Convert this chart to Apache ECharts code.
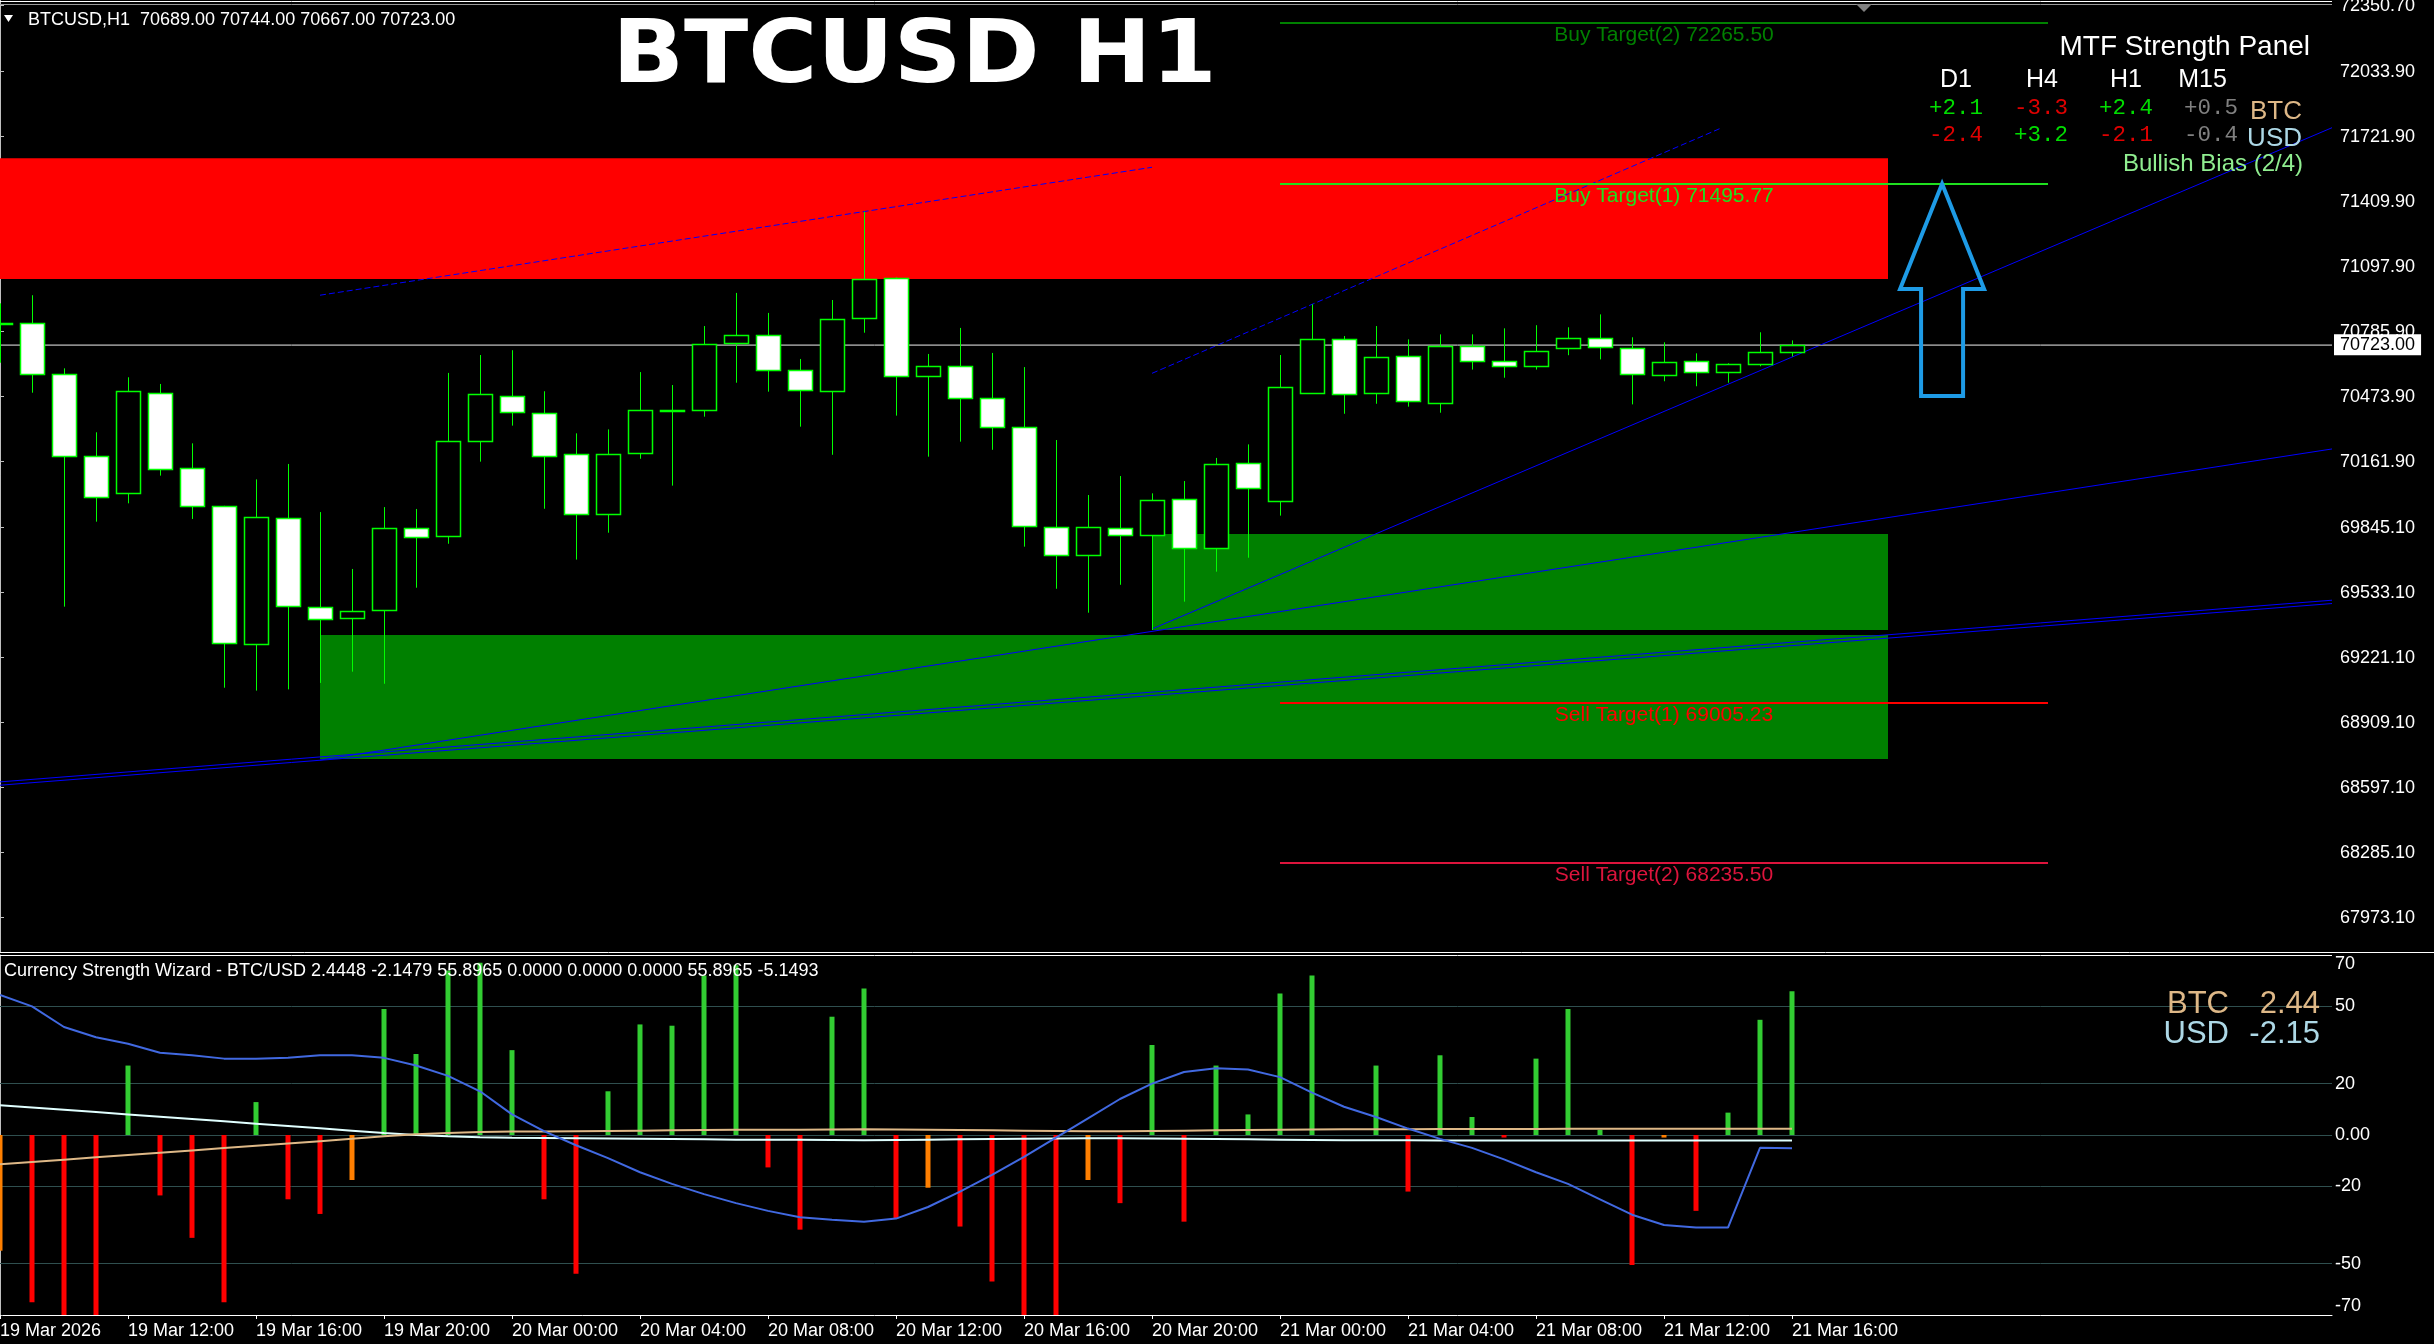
<!DOCTYPE html>
<html><head><meta charset="utf-8">
<script src="https://cdn.jsdelivr.net/npm/echarts@6/dist/echarts.min.js"></script>
<style>html,body{margin:0;padding:0;background:#000;overflow:hidden}#c{width:2434px;height:1344px}</style>
</head><body><div id="c"></div>
<script>
// ---------------- DATA ----------------
const symbolName = 'BTCUSD';
const timeframe = 'H1';
const timeLabels = ['19 Mar 2026','19 Mar 12:00','19 Mar 16:00','19 Mar 20:00','20 Mar 00:00','20 Mar 04:00','20 Mar 08:00','20 Mar 12:00','20 Mar 16:00','20 Mar 20:00','21 Mar 00:00','21 Mar 04:00','21 Mar 08:00','21 Mar 12:00','21 Mar 16:00'];
const timeTickBars = [0,4,8,12,16,20,24,28,32,36,40,44,48,52,56];
const priceTicks = [72350.70,72033.90,71721.90,71409.90,71097.90,70785.90,70473.90,70161.90,69845.10,69533.10,69221.10,68909.10,68597.10,68285.10,67973.10];
const strengthTicks = [-70,-50,-20,0,20,50,70];
const strengthLevels = [50,20,0,-20,-50];

const opens  = [70822,70826,70581,70188,70010,70490,70130,69948,69285,69890,69463,69410,69449,69842,69804,70260,70476,70394,70197,69910,70202,70409,70409,70730,70769,70601,70500,70850,71042,70572,70620,70466,70327,69847,69713,69842,69809,69981,69746,70154,69972,70490,70749,70490,70668,70442,70716,70644,70620,70706,70754,70706,70577,70644,70591,70629,70689];
const highs  = [70922,70961,70610,70303,70567,70535,70250,69950,70077,70151,69920,69647,69944,69935,70588,70674,70697,70500,70298,70317,70592,70530,70813,70972,70876,70655,70938,71362,71047,70679,70804,70684,70616,70266,70002,70093,70010,70069,70180,70245,70674,70917,70765,70813,70749,70773,70773,70802,70817,70807,70869,70759,70735,70682,70634,70783,70744];
const lows   = [70637,70493,69466,69874,69962,70095,69887,69077,69063,69069,69100,69154,69096,69557,69768,70162,70335,69936,69692,69821,70176,70047,70378,70541,70498,70330,70195,70781,70383,70186,70258,70219,69754,69552,69437,69571,69354,69490,69634,69701,69903,70488,70392,70440,70426,70397,70604,70565,70604,70673,70653,70437,70548,70524,70541,70620,70667];
const closes = [70826,70581,70188,69991,70500,70125,69948,69290,69895,69468,69405,69444,69842,69799,70260,70485,70399,70188,69910,70197,70409,70411,70725,70769,70601,70505,70845,71037,70572,70620,70466,70327,69852,69713,69847,69809,69976,69746,70150,70034,70519,70749,70485,70663,70452,70716,70644,70620,70692,70754,70711,70581,70639,70591,70629,70687,70723];

// zones: [fromBar, toBar, lowPrice, highPrice]
const supplyZones = [[-1, 59, 71039, 71618]];
const demandZones = [[10, 59, 68735, 69330],[36, 59, 69354, 69815]];

// trend lines: [[bar, price],[bar, price]]
const channelUpperLines = [
  [[10, 70961],[36, 71575]],
  [[36, 70586],[53.75, 71761]]
];
const supportLines = [
  [[36, 69359],[72.875, 71765]],
  [[10, 68730],[72.875, 70223]],
  [[0, 68625],[72.875, 69497]],
  [[0, 68609],[72.875, 69481]]
];

const targetNames  = ['Buy Target(2)','Buy Target(1)','Sell Target(1)','Sell Target(2)'];
const targetPrices = [72265.50, 71495.77, 69005.23, 68235.50];
const targetFromBar = 40, targetToBar = 64;

// arrow: [bar, tipPrice, headBasePrice, tailPrice]
const signalArrow = [60.69, 71495.77, 70991, 70477];

// MTF panel
const panelTimeframes = ['D1','H4','H1','M15'];
const btcStrength = [2.1,-3.3,2.4,0.5];
const usdStrength = [-2.4,3.2,-2.1,-0.4];

// indicator
const histValues = [-45,-65,-75,-75,27,-23.5,-40,-65,12.8,-25,-30.7,-17.5,49,31.5,64,67,33,-25,-54,17,43,42.5,62,66,-12.6,-36.8,46,57,-32.5,-20.5,-35.6,-57,-75,-75,-17.5,-26.5,35,-33.7,27,8,55,62,0,27,-22,31,7,-1,29.7,49,2,-50.6,-1,-29.5,8.7,44.8,55.8965];
const histWeakBars = [0,11,29,34,52];
const trendLine = [54.5,50,42,38,35.5,32,31,29.7,29.7,30,31,31,30,27,23,17,8,1.5,-4,-9,-14.5,-19,-23,-26.5,-29.5,-32,-33,-33.7,-32.5,-28,-22,-15.5,-8.5,-1,6.5,14,20,24.5,26,25.5,22.5,16.5,11,7,2.5,-1.5,-5,-9.5,-14.5,-19,-25,-31,-35,-36,-36,-5,-5.1493];
const btcLine = [-11.4,-10.5,-9.6,-8.7,-7.8,-6.9,-6.0,-5.1,-4.2,-3.3,-2.4,-1.5,-0.5,0.3,0.8,1.2,1.4,1.4,1.5,1.6,1.7,1.8,1.9,2.0,2.0,2.0,2.1,2.2,2.1,2.0,1.9,1.8,1.7,1.6,1.5,1.5,1.6,1.7,1.8,1.9,2.0,2.1,2.2,2.2,2.2,2.3,2.3,2.3,2.3,2.4,2.4,2.4,2.4,2.4,2.4,2.44,2.4448];
const usdLine = [11.6,10.7,9.8,8.9,8.0,7.1,6.2,5.3,4.4,3.5,2.6,1.7,0.8,0.0,-0.5,-0.9,-1.1,-1.2,-1.3,-1.4,-1.5,-1.6,-1.7,-1.8,-1.8,-1.8,-1.9,-2.0,-1.9,-1.8,-1.7,-1.6,-1.5,-1.4,-1.3,-1.3,-1.4,-1.5,-1.6,-1.7,-1.8,-1.9,-2.0,-2.0,-2.0,-2.1,-2.1,-2.1,-2.1,-2.1,-2.1,-2.1,-2.1,-2.1,-2.15,-2.15,-2.1479];
const indicatorExtra = [0,0,0];

// ---------------- STYLE / LAYOUT ----------------
const FONT = "'Liberation Sans', Arial, sans-serif";
const MONO = "'Liberation Mono', 'Courier New', monospace";
const PLOT_W = 2332;
const X_MAX = PLOT_W / 32;
const PRICE_MAX = 72378, PRICE_MIN = 72378 - 4.8 * 952;
const CANDLE_GREEN = '#00ff00';
const targetColors = ['#008000', '#1fe01f', '#ff0000', '#dc143c'];
const N = opens.length;
const lastClose = closes[N-1];

const chart = echarts.init(document.getElementById('c'), null, {renderer:'canvas', width:2434, height:1344});

function renderCandle(params, api){
  const k = api.value(0), o = api.value(1), c = api.value(2), l = api.value(3), h = api.value(4);
  const pO = api.coord([k,o]), pC = api.coord([k,c]), pL = api.coord([k,l]), pH = api.coord([k,h]);
  const x = Math.round(pO[0]) + 0.5;
  const top = Math.round(Math.min(pO[1], pC[1])) + 0.5;
  const bot = Math.round(Math.max(pO[1], pC[1])) + 0.5;
  const bull = c >= o;
  return {type:'group', children:[
    {type:'line', shape:{x1:x, y1:pH[1], x2:x, y2:pL[1]}, style:{stroke:CANDLE_GREEN, lineWidth:1}},
    {type:'rect', shape:{x:x-12, y:top, width:24, height:Math.max(bot-top, 1)}, style:{fill: bull ? '#000' : '#fff', stroke:CANDLE_GREEN, lineWidth:1.5}}
  ]};
}
function zoneRenderer(color){
  return function(params, api){
    const cs = params.coordSys;
    const p0 = api.coord([api.value(0), api.value(3)]);
    const p1 = api.coord([api.value(1), api.value(2)]);
    const x0 = Math.max(p0[0], cs.x), x1 = Math.min(p1[0], cs.x + cs.width);
    return {type:'rect', shape:{x:x0, y:p0[1], width:x1-x0, height:p1[1]-p0[1]}, style:{fill:color}};
  };
}
function targetRenderer(params, api){
  const i = params.dataIndex;
  const price = api.value(2);
  const a = api.coord([api.value(0), price]), b = api.coord([api.value(1), price]);
  const y = Math.round(a[1]);
  return {type:'group', children:[
    {type:'line', shape:{x1:a[0], y1:y, x2:b[0], y2:y}, style:{stroke:targetColors[i], lineWidth:2}},
    {type:'text', style:{text: targetNames[i] + ' ' + price.toFixed(2), x:(a[0]+b[0])/2, y:y+12, align:'center', verticalAlign:'middle', fill:targetColors[i], fontSize:21, fontFamily:FONT}}
  ]};
}
function arrowRenderer(params, api){
  const tip = api.coord([api.value(0), api.value(1)]);
  const head = api.coord([api.value(0), api.value(2)]);
  const tail = api.coord([api.value(0), api.value(3)]);
  const x = tip[0], hw = 42, sw = 21;
  return {type:'polygon', shape:{points:[[x,tip[1]],[x+hw,head[1]],[x+sw,head[1]],[x+sw,tail[1]],[x-sw,tail[1]],[x-sw,head[1]],[x-hw,head[1]]]},
    style:{fill:'none', stroke:'#1e9be6', lineWidth:4, lineJoin:'miter'}};
}

const series = [];
series.push({type:'custom', name:'supply', xAxisIndex:0, yAxisIndex:0, data:supplyZones, encode:{x:[0,1], y:[2,3]}, renderItem:zoneRenderer('#ff0000'), z:1, silent:true});
series.push({type:'custom', name:'demand', xAxisIndex:0, yAxisIndex:0, data:demandZones, encode:{x:[0,1], y:[2,3]}, renderItem:zoneRenderer('#008000'), z:1, silent:true});
series.push({type:'line', xAxisIndex:0, yAxisIndex:0, data:[[0,lastClose],[X_MAX,lastClose]], symbol:'none', lineStyle:{color:'#8c8c8c', width:1}, z:2, silent:true,
  markLine:{symbol:'none', silent:true, data:[{yAxis:lastClose}], lineStyle:{color:'#8c8c8c', width:1, type:'solid'},
    label:{position:'end', distance:2, formatter: () => lastClose.toFixed(2), backgroundColor:'#fff', color:'#000', fontSize:18, fontFamily:FONT, padding:[2,6,1,6]}}});
channelUpperLines.forEach(pts => series.push({type:'line', xAxisIndex:0, yAxisIndex:0, data:pts, symbol:'none', lineStyle:{color:'#0000ff', width:1, type:[6,3]}, z:3, silent:true}));
supportLines.forEach(pts => series.push({type:'line', xAxisIndex:0, yAxisIndex:0, data:pts, symbol:'none', lineStyle:{color:'#0000ff', width:1}, z:3, silent:true}));
series.push({type:'custom', name:'candles', xAxisIndex:0, yAxisIndex:0, data:opens.map((o,i)=>[i,o,closes[i],lows[i],highs[i]]), encode:{x:0, y:[1,2,3,4]}, renderItem:renderCandle, z:5});
series.push({type:'custom', name:'targets', xAxisIndex:0, yAxisIndex:0, data:targetPrices.map(p=>[targetFromBar, targetToBar, p]), encode:{x:[0,1], y:2}, renderItem:targetRenderer, z:6});
series.push({type:'custom', name:'arrow', xAxisIndex:0, yAxisIndex:0, data:[signalArrow], encode:{x:0, y:[1,2,3]}, renderItem:arrowRenderer, z:7});

// indicator
series.push({type:'bar', xAxisIndex:1, yAxisIndex:1, data:histValues.map((v,i)=>[i,v]), barWidth:5, z:3,
  itemStyle:{color: p => p.value[1] >= 0 ? '#32cd32' : (histWeakBars.includes(p.dataIndex) ? '#ff7f00' : '#ff0000')},
  markLine:{symbol:'none', silent:true, data:strengthLevels.map(v=>({yAxis:v})), lineStyle:{color:'#2f4f4f', width:1, type:'solid'}, label:{show:false}, z:1}});
series.push({type:'line', xAxisIndex:1, yAxisIndex:1, data:usdLine.map((v,i)=>[i,v]), symbol:'none', lineStyle:{color:'#e0ffff', width:2}, z:4});
series.push({type:'line', xAxisIndex:1, yAxisIndex:1, data:btcLine.map((v,i)=>[i,v]), symbol:'none', lineStyle:{color:'#deb887', width:2}, z:4});
series.push({type:'line', xAxisIndex:1, yAxisIndex:1, data:trendLine.map((v,i)=>[i,v]), symbol:'none', lineStyle:{color:'#4169e1', width:2}, z:5});

// graphics (texts) -- y given as baseline
const g = [];
const txt = (text, x, base, size, color, opts={}) => g.push({type:'text', x, y: base - 0.27*size,
  style:Object.assign({text, fill:color, fontSize:size, fontFamily:FONT, verticalAlign:'middle', textVerticalAlign:'middle'}, opts), z:100, silent:true});
// frame lines
g.push({type:'line', shape:{x1:0, y1:1.5, x2:PLOT_W, y2:1.5}, style:{stroke:'#ffffff', lineWidth:1}, z:90});
g.push({type:'line', shape:{x1:0, y1:4.5, x2:PLOT_W, y2:4.5}, style:{stroke:'#9a9a9a', lineWidth:1}, z:90});
g.push({type:'line', shape:{x1:0, y1:952.5, x2:2434, y2:952.5}, style:{stroke:'#ffffff', lineWidth:1}, z:90});
g.push({type:'line', shape:{x1:0, y1:955.5, x2:PLOT_W, y2:955.5}, style:{stroke:'#ffffff', lineWidth:1}, z:90});
// chart shift marker
g.push({type:'polygon', shape:{points:[[1856,4],[1872,4],[1864,12]]}, style:{fill:'#808080'}, z:91});
// header
g.push({type:'polygon', shape:{points:[[4,15],[13,15],[8.5,22]]}, style:{fill:'#ffffff'}, z:100});
txt(symbolName + ',' + timeframe + '  ' + [opens[N-1], highs[N-1], lows[N-1], closes[N-1]].map(v=>v.toFixed(2)).join(' '), 28, 25, 18, '#ffffff');
// big title
g.push({type:'text', x:914.5, y:59, scaleX:1.07, z:100, silent:true,
  style:{text: symbolName + ' ' + timeframe, fill:'#ffffff', fontSize:88, fontWeight:'bold', fontFamily:"'DejaVu Sans', sans-serif", align:'center', verticalAlign:'middle'}});
// MTF panel
txt('MTF Strength Panel', 2310, 55, 28, '#ffffff', {align:'right', textAlign:'right'});
const headCenters = [1956, 2042, 2126, 2202.5];
const valCenters = [1956, 2041, 2126, 2211];
const fmt = v => (v >= 0 ? '+' : '-') + Math.abs(v).toFixed(1);
const sc = v => Math.abs(v) < 1 ? '#808080' : (v > 0 ? '#00dd00' : '#e00000');
panelTimeframes.forEach((tf,i) => {
  txt(tf, headCenters[i], 87, 25, '#ffffff', {align:'center', textAlign:'center'});
  txt(fmt(btcStrength[i]), valCenters[i], 114, 22.5, sc(btcStrength[i]), {fontFamily:MONO, align:'center', textAlign:'center'});
  txt(fmt(usdStrength[i]), valCenters[i], 141, 22.5, sc(usdStrength[i]), {fontFamily:MONO, align:'center', textAlign:'center'});
});
txt('BTC', 2302, 119, 26, '#deb887', {align:'right', textAlign:'right'});
txt('USD', 2302, 146, 26, '#add8e6', {align:'right', textAlign:'right'});
const bullCount = btcStrength.filter((v,i)=> v >= 1 && v > usdStrength[i]).length;
txt('Bullish Bias (' + bullCount + '/' + panelTimeframes.length + ')', 2303, 171, 24, '#90ee90', {align:'right', textAlign:'right'});
// indicator header
txt('Currency Strength Wizard - BTC/USD ' + [btcLine[N-1], usdLine[N-1], histValues[N-1], indicatorExtra[0], indicatorExtra[1], indicatorExtra[2], histValues[N-1], trendLine[N-1]].map(v=>v.toFixed(4)).join(' '), 4, 976, 18, '#ffffff');
txt('BTC', 2229, 1013, 31, '#deb887', {align:'right', textAlign:'right'});
txt(btcLine[N-1].toFixed(2), 2320, 1013, 31, '#deb887', {align:'right', textAlign:'right'});
txt('USD', 2229, 1043, 31, '#add8e6', {align:'right', textAlign:'right'});
txt(usdLine[N-1].toFixed(2), 2320, 1043, 31, '#add8e6', {align:'right', textAlign:'right'});

const option = {
  backgroundColor:'#000000',
  animation:false,
  grid:[
    {left:0, top:0, width:PLOT_W, height:952, containLabel:false, outerBoundsMode:'none', show:false},
    {left:0, top:955, width:PLOT_W, height:360, containLabel:false, outerBoundsMode:'none', show:false}
  ],
  xAxis:[
    {type:'value', gridIndex:0, min:0, max:X_MAX, show:false, splitLine:{show:false}},
    {type:'value', gridIndex:1, min:0, max:X_MAX, position:'bottom',
      axisLine:{show:true, onZero:false, lineStyle:{color:'#ffffff', width:1}},
      axisTick:{show:true, customValues:timeTickBars, length:4, lineStyle:{color:'#ffffff'}},
      axisLabel:{customValues:timeTickBars, formatter: v => timeLabels[Math.round(v/4)] || '', color:'#ffffff', fontSize:18, fontFamily:FONT, align:'left', margin:7},
      splitLine:{show:false}}
  ],
  yAxis:[
    {type:'value', gridIndex:0, position:'right', min:PRICE_MIN, max:PRICE_MAX,
      axisLine:{show:true, lineStyle:{color:'#c0c0c0'}},
      axisTick:{show:true, customValues:priceTicks, length:4, lineStyle:{color:'#c0c0c0'}},
      axisLabel:{customValues:priceTicks, formatter: v => v.toFixed(2), color:'#ffffff', fontSize:18, fontFamily:FONT, margin:8},
      splitLine:{show:false}},
    {type:'value', gridIndex:1, position:'right', min:-70, max:70,
      axisLine:{show:true, lineStyle:{color:'#c0c0c0'}},
      axisTick:{show:true, customValues:strengthTicks, length:3, lineStyle:{color:'#c0c0c0'}},
      axisLabel:{customValues:strengthTicks, formatter: v => v === 0 ? '0.00' : String(v), color:'#ffffff', fontSize:18, fontFamily:FONT, margin:3,
        verticalAlignMaxLabel:'top', verticalAlignMinLabel:'bottom'},
      splitLine:{show:false}}
  ],
  series,
  graphic:g
};
chart.setOption(option);
</script>
</body></html>
